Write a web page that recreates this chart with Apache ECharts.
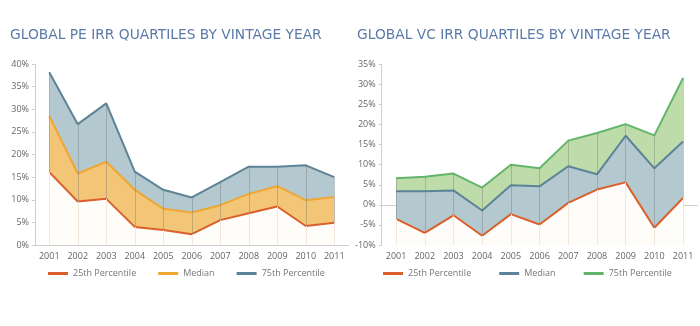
<!DOCTYPE html>
<html><head><meta charset="utf-8">
<script src="https://cdn.jsdelivr.net/npm/echarts@6/dist/echarts.min.js"></script>
<style>html,body{margin:0;padding:0;background:#fff;}#c{width:700px;height:326px;}</style>
</head><body><div id="c"></div>
<script>
const years = ['2001','2002','2003','2004','2005','2006','2007','2008','2009','2010','2011'];
const pe25 = [16.1, 9.6, 10.2, 4.0, 3.3, 2.4, 5.5, 7.0, 8.5, 4.2, 4.9];
const peMed = [28.5, 15.8, 18.4, 12.2, 8.0, 7.2, 8.8, 11.3, 13.0, 9.9, 10.6];
const pe75 = [38.2, 26.7, 31.3, 16.2, 12.2, 10.5, 13.9, 17.3, 17.3, 17.6, 15.0];
const vc25 = [-3.5, -7.0, -2.6, -7.7, -2.3, -4.9, 0.5, 3.8, 5.6, -5.7, 1.7];
const vcMed = [3.4, 3.4, 3.6, -1.4, 4.9, 4.6, 9.6, 7.6, 17.2, 9.1, 15.8];
const vc75 = [6.6, 7.0, 7.8, 4.3, 10.0, 9.1, 16.0, 17.9, 20.1, 17.3, 31.6];
const peTitle = 'GLOBAL PE IRR QUARTILES BY VINTAGE YEAR';
const vcTitle = 'GLOBAL VC IRR QUARTILES BY VINTAGE YEAR';
const legendNames = ['25th Percentile', 'Median', '75th Percentile'];
const vcLegendNames = ['VC 25th Percentile', 'VC Median', 'VC 75th Percentile'];

const C25 = '#d9602c', CMEDPE = '#efa733', FMEDPE = '#f2c676', CBLUE = '#5d8398', FBLUE = '#b4c8cf', CGREEN = '#62b56a', FGREEN = '#bedcaa', FBASE = '#fffdf9';
const font = '"Open Sans", Lato, sans-serif';

function drops(idx, low, high, min) {
  const faint = years.map((y, i) => [{coord: [i, min]}, {coord: [i, low[i]]}]);
  const dark = years.map((y, i) => [{coord: [i, low[i]]}, {coord: [i, high[i]]}]);
  return [
    {type: 'line', xAxisIndex: idx, yAxisIndex: idx, data: [], silent: true, z: 10,
      markLine: {symbol: 'none', silent: true, label: {show: false}, animation: false,
        lineStyle: {color: '#f5e6dc', width: 1, type: 'solid'}, data: faint}},
    {type: 'line', xAxisIndex: idx, yAxisIndex: idx, data: [], silent: true, z: 10,
      markLine: {symbol: 'none', silent: true, label: {show: false}, animation: false,
        lineStyle: {color: 'rgba(110,110,110,0.35)', width: 1, type: 'solid'}, data: dark}}
  ];
}
function band(idx, name, data, line, fill, z) {
  return {type: 'line', name: name, xAxisIndex: idx, yAxisIndex: idx, data: data, symbol: 'none', z: z,
    lineStyle: {color: line, width: 2}, itemStyle: {color: line},
    areaStyle: {color: fill, opacity: 1, origin: 'start'}};
}
function xAx(idx) {
  return {type: 'category', gridIndex: idx, data: years, boundaryGap: true,
    axisLine: {lineStyle: {color: '#cfcfcf'}}, axisTick: {length: 3, interval: 0, lineStyle: {color: '#cfcfcf'}},
    axisLabel: {color: '#666', fontSize: 9, fontFamily: font, margin: 7, interval: 0}, splitLine: {show: false}};
}
function yAx(idx, min, max) {
  return {type: 'value', gridIndex: idx, min: min, max: max, interval: 5,
    axisLine: {show: true, lineStyle: {color: '#cfcfcf'}}, axisTick: {show: true, length: 3, lineStyle: {color: '#cfcfcf'}},
    axisLabel: {color: '#666', fontSize: 9, fontFamily: font, margin: 6, formatter: '{value}%'}, splitLine: {show: false}};
}
const titleStyle = {color: '#5b7aa8', fontSize: 13.8, fontWeight: 'normal', fontFamily: '"DejaVu Sans", sans-serif'};
const legendText = {color: '#777', fontSize: 9, fontFamily: font};
const chart = echarts.init(document.getElementById('c'), null, {renderer: 'canvas'});
chart.setOption({
  animation: false,
  title: [
    {text: peTitle, left: 5, top: 23, textStyle: titleStyle},
    {text: vcTitle, left: 352, top: 23, textStyle: titleStyle}
  ],
  grid: [
    {left: 35, top: 64, width: 313.5, height: 181},
    {left: 381.7, top: 64.3, width: 315.7, height: 180.7}
  ],
  xAxis: [xAx(0), xAx(1)],
  yAxis: [yAx(0, 0, 40), yAx(1, -10, 35)],
  legend: [
    {left: 43, top: 264, itemWidth: 20, itemHeight: 3, itemGap: 22, icon: 'rect', selectedMode: false,
     textStyle: legendText, data: legendNames},
    {left: 378, top: 264, itemWidth: 20, itemHeight: 3, itemGap: 28, icon: 'rect', selectedMode: false,
     textStyle: legendText, formatter: function (n) { return n.replace('VC ', ''); }, data: vcLegendNames}
  ],
  series: [
    band(0, legendNames[2], pe75, CBLUE, FBLUE, 2),
    band(0, legendNames[1], peMed, CMEDPE, FMEDPE, 3),
    band(0, legendNames[0], pe25, C25, FBASE, 4),
    ...drops(0, pe25, pe75, 0),
    band(1, vcLegendNames[2], vc75, CGREEN, FGREEN, 2),
    band(1, vcLegendNames[1], vcMed, CBLUE, FBLUE, 3),
    band(1, vcLegendNames[0], vc25, C25, FBASE, 4),
    ...drops(1, vc25, vc75, -10)
  ]
});
</script></body></html>
